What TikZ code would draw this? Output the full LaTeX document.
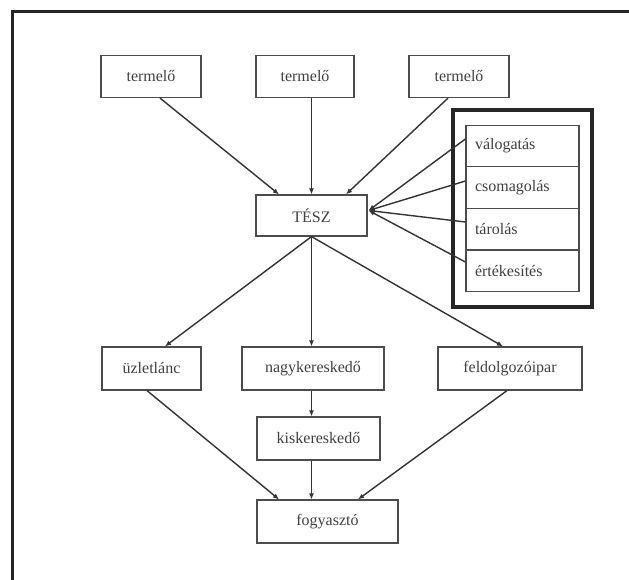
\documentclass[tikz,border=0pt]{standalone}
\usepackage{fontspec}
\setmainfont{Liberation Serif}
\usetikzlibrary{arrows.meta,calc}
\tikzset{
  box/.style={draw=black!70, line width=1.2pt, fill=white, inner sep=0pt,
    minimum height=42pt, text=black!75, font=\fontsize{16}{18}\selectfont},
  rowbox/.style={draw=black!70, line width=1.2pt, inner xsep=9pt, inner ysep=0pt,
    minimum width=113pt, minimum height=41.7pt, text width=95pt, align=left,
    text=black!75, font=\fontsize{16}{18}\selectfont},
  conn/.style={draw=black!80, line width=1.4pt, -{Latex[length=6pt,width=5pt]}},
  frameline/.style={draw=black!85, line width=3pt},
}
\begin{document}
\begin{tikzpicture}[x=1pt,y=-1pt]
\useasboundingbox (0,0) rectangle (629,580);
\fill[white] (0,0) rectangle (629,580);
% outer frame
\draw[frameline] (12,600) -- (12,12) -- (650,12);
% producers
\node[box, minimum width=100pt] (t1) at (151,76.5) {termelő};
\node[box, minimum width=98pt] (t2) at (305,76.5) {termelő};
\node[box, minimum width=100pt] (t3) at (459,76.5) {termelő};
\node[box, minimum width=111pt, minimum height=41pt] (tesz) at (311.5,215.5) {TÉSZ};
% functions box
\draw[draw=black!85, line width=4pt] (453,110) rectangle (592,307);
\node[rowbox] (r1) at (522.5,146) {válogatás};
\node[rowbox] (r2) at (522.5,187.5) {csomagolás};
\node[rowbox] (r3) at (522.5,229) {tárolás};
\node[rowbox] (r4) at (522.5,271) {értékesítés};
% second level
\node[box, minimum width=99pt, minimum height=43pt] (uz) at (151.5,368.5) {üzletlánc};
\node[box, minimum width=142pt, minimum height=43pt] (nagy) at (313,368.5) {nagykereskedő};
\node[box, minimum width=144pt, minimum height=43pt] (feld) at (510,368.5) {feldolgozóipar};
\node[box, minimum width=123pt, minimum height=43pt] (kis) at (318.5,438.5) {kiskereskedő};
\node[box, minimum width=141pt, minimum height=43pt] (fogy) at (327.5,521.5) {fogyasztó};
% connectors
\draw[conn] ($(t1.south)+(9,0)$) -- ($(tesz.north)+(-32.5,0)$);
\draw[conn] (tesz.north |- t2.south) -- (tesz.north);
\draw[conn] ($(t3.south)+(-11,0)$) -- ($(tesz.north)+(34.5,0)$);
\draw[conn] (tesz.south) -- ($(uz.north)+(13.5,0)$);
\draw[conn] (tesz.south) -- (tesz.south |- nagy.north);
\draw[conn] (tesz.south) -- ($(feld.north)+(-7,0)$);
\draw[conn] (tesz.south |- nagy.south) -- (tesz.south |- kis.north);
\draw[conn] ($(uz.south)+(-4.5,0)$) -- ($(fogy.north)+(-48.5,0)$);
\draw[conn] (tesz.south |- kis.south) -- (tesz.south |- fogy.north);
\draw[conn] ($(feld.south)+(-3,0)$) -- ($(fogy.north)+(30.5,0)$);
% fan
\draw[conn] ($(r1.west)+(0,-7)$) -- ($(tesz.east)+(1,-5)$);
\draw[conn] ($(r2.west)+(0,-6.5)$) -- ($(tesz.east)+(1,-5)$);
\draw[conn] ($(r3.west)+(0,-7)$) -- ($(tesz.east)+(1,-5)$);
\draw[conn] ($(r4.west)+(0,-9)$) -- ($(tesz.east)+(1,-5)$);
\end{tikzpicture}
\end{document}
